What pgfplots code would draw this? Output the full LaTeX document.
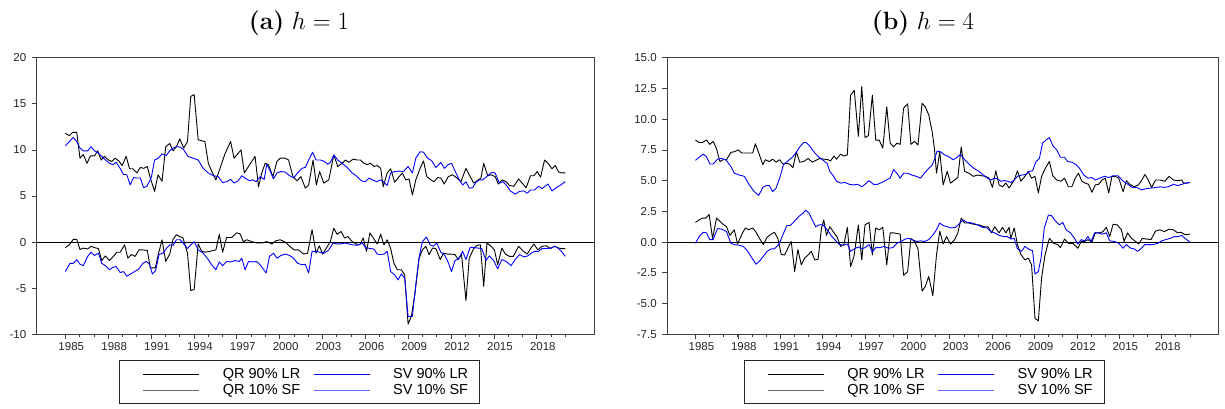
\documentclass[border=0pt]{standalone}
\usepackage{fontspec}
\newfontfamily\chartfont{Liberation Sans}
\usepackage{pgfplots}
\pgfplotsset{compat=1.18}

\definecolor{frame}{gray}{0.25}

\pgfplotsset{
  panel/.style={
    scale only axis, height=276.6pt,
    xmin=1983, xmax=2022,
    xtick={1985,1988,...,2018},
    xticklabels={1985,1988,1991,1994,1997,2000,2003,2006,2009,2012,2015,2018},
    minor xtick={1985,...,2020},
    tick align=outside, tick pos=left,
    major tick length=5pt, minor tick length=2.5pt,
    axis line style={frame, line width=0.8pt},
    every tick/.style={frame, line width=0.7pt},
    tick label style={font=\chartfont\fontsize{11.5}{13}\selectfont, text=black!85},
    /pgf/number format/assume math mode=true,
    xticklabel style={xshift=6pt},
    yticklabel style={xshift=-2pt},
    legend columns=2,
    legend cell align=left,
    legend image code/.code={\path (0pt,0pt); \draw[##1] (11.6pt,0pt) -- (67.6pt,0pt);},
    legend style={
      anchor=center, draw=black!85, line width=0.8pt,
      font=\chartfont\fontsize{14.5}{17}\selectfont,
      inner xsep=11.7pt, inner ysep=7.5pt, row sep=4.7pt,
      nodes={inner sep=0pt},
      /tikz/every odd column/.style={column sep=23pt},
      /tikz/every even column/.style={column sep=1.4pt},
    },
    every axis plot/.append style={line width=0.9pt, line join=round, mark=none},
  },
  qrline/.style={black},
  svline/.style={blue},
}

\begin{document}
\begin{tikzpicture}
\useasboundingbox (0,0) rectangle (1225pt,409pt);

\node[font=\fontsize{25}{30}\selectfont] at (299pt,386pt) {\textbf{(a)}~$h=1$};
\node[font=\fontsize{25}{30}\selectfont] at (923pt,386pt) {\textbf{(b)}~$h=4$};

% ---------------- h = 1 ----------------
\begin{axis}[panel, at={(36.7pt,74.7pt)}, anchor=south west, width=557.3pt,
  ymin=-10, ymax=20, ytick={-10,-5,...,20},
  legend style={at={(0.472,-0.173)}}]
\addplot[forget plot, black, line width=0.8pt] coordinates {(1983,0) (2022,0)};
% QR 90% LR
\addplot[qrline, forget plot] coordinates {
(1985.00,11.8)(1985.28,11.55)(1985.52,11.9)(1985.80,11.9)(1986.03,9.1)(1986.26,9.5)(1986.52,8.55)(1986.76,9.35)(1987.04,9.35)(1987.27,9.9)(1987.51,8.9)(1987.74,9.3)(1988.02,8.9)(1988.26,8.75)(1988.49,9.1)(1988.75,8.8)(1988.98,8.3)(1989.26,9.3)(1989.50,7.95)(1989.73,7.95)(1990.01,7.5)(1990.25,8.1)(1990.48,8.0)(1990.74,8.2)(1990.95,6.95)(1991.25,5.5)(1991.49,7.3)(1991.77,6.6)(1992.03,10.35)(1992.31,10.7)(1992.54,9.9)(1992.78,10.35)(1993.01,11.2)(1993.29,10.2)(1993.55,10.9)(1993.78,15.8)(1994.02,16.0)(1994.30,11.1)(1994.53,11.0)(1994.77,10.9)(1995.01,8.55)(1995.24,7.7)(1995.54,6.75)(1995.83,8.0)(1996.18,9.6)(1996.57,10.9)(1996.81,9.1)(1997.30,10.0)(1997.53,7.5)(1997.82,8.2)(1998.28,9.3)(1998.52,6.0)(1998.75,7.5)(1998.99,8.55)(1999.22,8.4)(1999.53,7.1)(1999.81,8.75)(2000.04,9.1)(2000.39,9.1)(2000.63,8.9)(2000.93,7.1)(2001.21,6.65)(2001.49,7.1)(2001.80,5.85)(2002.03,6.2)(2002.34,8.9)(2002.57,6.2)(2002.80,7.65)(2003.09,6.4)(2003.44,6.75)(2003.79,9.45)(2004.07,8.2)(2004.37,8.55)(2004.61,8.9)(2004.84,8.65)(2005.15,9.0)(2005.43,8.9)(2005.66,8.9)(2005.90,8.55)(2006.13,8.4)(2006.36,8.55)(2006.60,8.2)(2006.83,8.3)(2007.07,8.0)(2007.25,6.0)(2007.53,7.5)(2007.77,7.95)(2008.05,6.5)(2008.36,7.1)(2008.59,7.5)(2008.82,6.75)(2009.06,6.85)(2009.29,5.1)(2009.53,6.75)(2009.83,8.0)(2010.07,8.8)(2010.30,7.1)(2010.58,6.75)(2010.81,6.55)(2011.05,7.0)(2011.28,6.95)(2011.52,6.3)(2011.80,7.1)(2012.10,7.3)(2012.41,6.95)(2012.69,6.55)(2013.04,8.0)(2013.27,7.3)(2013.58,6.4)(2013.91,6.75)(2014.09,6.95)(2014.28,8.55)(2014.56,7.2)(2014.80,7.3)(2015.08,7.1)(2015.31,6.3)(2015.57,6.75)(2015.85,6.55)(2016.08,6.15)(2016.39,6.05)(2016.72,6.85)(2016.97,6.4)(2017.25,5.9)(2017.56,7.2)(2017.79,7.2)(2018.03,7.65)(2018.26,7.05)(2018.54,8.9)(2018.78,8.55)(2019.06,7.95)(2019.29,8.3)(2019.53,7.6)(2019.76,7.5)(2019.99,7.5)
};
% SV 90% LR
\addplot[svline, forget plot] coordinates {
(1985.00,10.45)(1985.28,10.9)(1985.56,11.35)(1985.80,10.9)(1986.03,10.2)(1986.26,9.9)(1986.57,9.9)(1986.80,10.35)(1987.04,9.9)(1987.32,9.65)(1987.55,9.3)(1987.81,8.9)(1988.09,8.55)(1988.33,8.4)(1988.56,8.65)(1988.84,8.0)(1989.07,7.35)(1989.31,7.3)(1989.54,6.2)(1989.78,7.0)(1990.01,6.95)(1990.25,6.95)(1990.48,5.9)(1990.71,6.05)(1991.02,7.0)(1991.25,8.9)(1991.49,9.1)(1991.77,9.55)(1992.07,9.4)(1992.31,9.9)(1992.54,10.2)(1992.78,10.35)(1993.06,10.3)(1993.29,10.0)(1993.59,9.3)(1993.95,9.1)(1994.30,8.9)(1994.65,8.0)(1995.01,7.5)(1995.36,7.2)(1995.71,7.1)(1996.01,6.45)(1996.29,6.55)(1996.57,6.8)(1996.81,6.4)(1997.11,6.65)(1997.35,7.2)(1997.58,6.95)(1997.89,6.65)(1998.12,6.75)(1998.35,6.55)(1998.64,7.1)(1998.92,6.8)(1999.10,8.45)(1999.34,7.7)(1999.57,6.85)(1999.81,7.5)(2000.09,7.65)(2000.39,7.6)(2000.70,7.2)(2000.98,6.95)(2001.26,7.5)(2001.56,8.0)(2001.80,8.1)(2002.03,8.9)(2002.31,9.75)(2002.55,8.9)(2002.85,8.9)(2003.13,8.75)(2003.37,8.45)(2003.55,8.65)(2003.79,9.45)(2004.07,8.9)(2004.37,8.55)(2004.72,8.1)(2005.08,7.5)(2005.43,7.1)(2005.71,6.65)(2006.01,6.55)(2006.25,6.95)(2006.48,6.75)(2006.79,6.55)(2007.07,6.75)(2007.30,6.5)(2007.53,6.15)(2007.77,7.5)(2008.05,7.65)(2008.36,7.7)(2008.66,7.65)(2008.99,8.2)(2009.29,7.5)(2009.53,9.1)(2009.83,9.8)(2010.07,9.75)(2010.35,9.1)(2010.63,8.85)(2010.93,8.1)(2011.28,8.65)(2011.52,8.0)(2011.80,8.4)(2012.03,8.55)(2012.34,7.5)(2012.57,6.75)(2012.81,6.2)(2013.04,6.55)(2013.27,5.85)(2013.51,5.9)(2013.74,6.5)(2013.98,6.75)(2014.21,6.75)(2014.56,7.2)(2014.84,7.55)(2015.08,7.5)(2015.38,6.4)(2015.62,6.55)(2015.85,6.2)(2016.15,5.55)(2016.48,5.2)(2016.79,5.5)(2017.09,5.55)(2017.33,5.3)(2017.56,5.65)(2017.84,5.65)(2018.12,6.05)(2018.36,5.8)(2018.78,6.3)(2019.06,5.55)(2019.36,5.9)(2019.67,6.2)(2019.99,6.55)
};
% QR 10% SF
\addplot[qrline, forget plot] coordinates {
(1985.00,-0.6)(1985.28,-0.3)(1985.56,0.3)(1985.80,0.3)(1986.03,-0.8)(1986.26,-0.65)(1986.57,-0.75)(1986.80,-0.45)(1987.04,-0.6)(1987.32,-0.7)(1987.55,-2.0)(1987.81,-1.5)(1988.09,-2.0)(1988.37,-1.55)(1988.61,-1.1)(1988.84,-1.1)(1989.15,-0.3)(1989.38,-1.75)(1989.62,-1.35)(1989.89,-1.55)(1990.15,-0.85)(1990.43,-0.85)(1990.74,-0.9)(1990.95,-2.8)(1991.30,-2.8)(1991.53,-1.2)(1991.77,0.25)(1992.03,-2.1)(1992.31,-1.3)(1992.54,0.3)(1992.78,0.8)(1993.01,0.6)(1993.24,0.45)(1993.55,-1.2)(1993.78,-5.25)(1994.02,-5.15)(1994.30,-0.2)(1994.53,-0.95)(1994.77,-1.1)(1995.12,-1.0)(1995.54,-0.85)(1995.78,0.85)(1996.01,-1.1)(1996.29,0.5)(1996.64,0.5)(1997.00,1.0)(1997.23,0.9)(1997.46,0.05)(1997.70,0.25)(1998.05,0.05)(1998.40,-0.1)(1998.75,-0.1)(1999.10,0.05)(1999.46,-0.2)(1999.76,0.15)(2000.04,0.25)(2000.39,0.0)(2000.70,-0.45)(2001.02,-0.85)(2001.33,-0.85)(2001.68,-1.3)(2001.96,-1.2)(2002.27,1.35)(2002.55,-1.2)(2002.78,-0.4)(2003.01,-1.3)(2003.27,-0.65)(2003.55,0.05)(2003.79,1.5)(2004.02,0.85)(2004.30,1.15)(2004.54,0.45)(2004.77,0.6)(2005.08,0.05)(2005.36,-0.2)(2005.61,-0.3)(2005.85,0.45)(2006.08,-1.0)(2006.32,1.0)(2006.60,0.35)(2006.83,-0.2)(2007.07,0.85)(2007.30,-0.3)(2007.53,0.25)(2007.77,-0.7)(2008.00,-2.3)(2008.24,-3.0)(2008.52,-3.0)(2008.75,-3.55)(2008.99,-8.9)(2009.22,-8.05)(2009.46,-5.7)(2009.76,-1.75)(2009.99,-0.85)(2010.23,-0.45)(2010.46,-1.35)(2010.70,-0.65)(2010.93,-0.7)(2011.24,-1.9)(2011.47,-1.2)(2011.75,-1.3)(2011.99,-1.3)(2012.27,-1.35)(2012.50,-1.9)(2012.73,-1.35)(2013.04,-6.35)(2013.27,-1.75)(2013.58,-0.7)(2013.81,-0.35)(2014.05,-0.3)(2014.28,-4.8)(2014.51,-0.1)(2014.80,-0.45)(2015.03,-0.85)(2015.26,-2.45)(2015.55,-0.65)(2015.80,-1.3)(2016.08,-1.55)(2016.36,-1.55)(2016.72,-0.45)(2017.02,-0.95)(2017.33,-1.3)(2017.56,-0.7)(2017.79,-0.2)(2018.07,-0.85)(2018.36,-0.45)(2018.66,-0.4)(2018.96,-0.7)(2019.25,-0.45)(2019.53,-0.65)(2019.76,-0.7)(2019.99,-0.7)
};
% SV 10% SF
\addplot[svline, forget plot] coordinates {
(1985.00,-3.2)(1985.33,-2.3)(1985.56,-2.3)(1985.80,-1.9)(1986.03,-2.4)(1986.26,-2.55)(1986.57,-1.55)(1986.80,-1.1)(1987.04,-1.45)(1987.32,-1.2)(1987.55,-2.3)(1987.81,-2.55)(1988.09,-3.0)(1988.33,-2.75)(1988.56,-2.65)(1988.84,-3.3)(1989.07,-3.2)(1989.31,-3.7)(1989.57,-3.45)(1989.85,-3.2)(1990.15,-2.9)(1990.43,-2.3)(1990.67,-2.1)(1990.90,-2.4)(1991.09,-3.45)(1991.32,-3.1)(1991.56,-1.35)(1991.84,-1.2)(1992.07,-0.7)(1992.31,-0.3)(1992.54,-0.35)(1992.78,0.25)(1993.06,0.25)(1993.29,-0.2)(1993.55,-0.7)(1993.78,-0.3)(1994.02,0.05)(1994.30,-0.85)(1994.65,-1.2)(1995.01,-1.9)(1995.24,-2.45)(1995.54,-3.0)(1995.78,-2.15)(1996.01,-2.55)(1996.29,-2.1)(1996.57,-2.15)(1996.88,-2.0)(1997.18,-2.1)(1997.35,-1.75)(1997.58,-3.0)(1997.82,-2.1)(1998.12,-2.15)(1998.40,-2.1)(1998.68,-2.55)(1999.06,-3.35)(1999.29,-1.55)(1999.57,-1.2)(1999.81,-1.75)(2000.09,-1.45)(2000.39,-1.3)(2000.70,-1.45)(2000.98,-1.75)(2001.26,-2.3)(2001.56,-2.45)(2001.80,-2.4)(2002.03,-3.35)(2002.27,-1.0)(2002.55,-1.0)(2002.80,-1.1)(2003.13,-1.2)(2003.44,-0.85)(2003.74,-0.1)(2004.02,-0.2)(2004.30,-0.2)(2004.54,-0.1)(2004.84,-0.2)(2005.12,-0.3)(2005.43,-0.35)(2005.78,-0.1)(2006.01,-0.6)(2006.36,-0.7)(2006.60,-0.75)(2006.83,-1.3)(2007.07,-1.35)(2007.30,-1.3)(2007.53,-1.0)(2007.77,-3.2)(2008.05,-3.55)(2008.29,-4.1)(2008.52,-3.45)(2008.75,-3.9)(2008.99,-8.05)(2009.29,-8.05)(2009.53,-4.6)(2009.76,-1.65)(2009.99,0.05)(2010.28,0.55)(2010.53,-0.3)(2010.77,-0.45)(2011.00,-0.1)(2011.28,-1.1)(2011.52,-1.35)(2011.75,-2.0)(2012.03,-3.2)(2012.27,-2.0)(2012.50,-1.85)(2012.81,-1.0)(2013.04,-1.9)(2013.34,-0.55)(2013.58,-0.6)(2013.91,-0.65)(2014.14,-0.7)(2014.44,-2.0)(2014.68,-1.5)(2014.98,-2.0)(2015.26,-2.9)(2015.55,-1.9)(2015.85,-2.1)(2016.20,-2.55)(2016.48,-1.9)(2016.79,-1.35)(2017.09,-1.6)(2017.37,-1.5)(2017.61,-1.2)(2017.84,-1.0)(2018.12,-1.0)(2018.36,-0.7)(2018.66,-0.7)(2018.96,-0.65)(2019.25,-0.45)(2019.48,-0.65)(2019.72,-1.0)(2019.99,-1.55)
};
\addlegendimage{black, line width=0.9pt}
\addlegendentry{QR 90\% LR}
\addlegendimage{blue, line width=0.9pt}
\addlegendentry{SV 90\% LR}
\addlegendimage{black!60, line width=0.9pt}
\addlegendentry{QR 10\% SF}
\addlegendimage{blue!60, line width=0.9pt}
\addlegendentry{SV 10\% SF}
\end{axis}

% ---------------- h = 4 ----------------
\begin{axis}[panel, at={(667.2pt,74.7pt)}, anchor=south west, width=551pt,
  ymin=-7.5, ymax=15, ytick={-7.5,-5,...,15},
  yticklabel style={/pgf/number format/.cd, fixed, fixed zerofill, precision=1},
  legend style={at={(0.4664,-0.173)}}]
\addplot[forget plot, black, line width=0.8pt] coordinates {(1983,0) (2022,0)};
% QR 90% LR
\addplot[qrline, forget plot] coordinates {
(1985.00,8.3)(1985.26,8.1)(1985.49,8.1)(1985.78,8.3)(1986.02,7.95)(1986.25,8.2)(1986.49,7.6)(1986.73,6.55)(1986.96,6.7)(1987.20,6.7)(1987.51,7.3)(1987.75,7.35)(1988.03,7.5)(1988.27,7.25)(1988.58,7.25)(1988.81,7.25)(1989.05,7.25)(1989.24,8.0)(1989.48,7.25)(1989.77,6.3)(1989.95,6.7)(1990.24,6.55)(1990.46,6.75)(1990.71,6.5)(1990.95,6.7)(1991.19,6.35)(1991.42,6.4)(1991.66,6.35)(1991.90,6.05)(1992.14,7.35)(1992.38,6.5)(1992.66,6.55)(1992.97,6.8)(1993.27,6.5)(1993.61,6.7)(1993.80,6.8)(1994.08,6.75)(1994.39,6.7)(1994.56,6.6)(1994.80,7.0)(1994.99,6.75)(1995.27,7.15)(1995.51,7.0)(1995.75,7.1)(1995.98,11.95)(1996.24,12.35)(1996.53,8.6)(1996.77,12.65)(1997.00,8.5)(1997.24,8.65)(1997.52,11.95)(1997.76,8.3)(1998.00,8.3)(1998.26,7.65)(1998.54,11.0)(1998.78,8.05)(1999.02,7.75)(1999.26,8.05)(1999.49,7.95)(1999.73,10.9)(2000.02,11.25)(2000.25,7.95)(2000.51,8.2)(2000.75,7.9)(2001.04,11.3)(2001.27,11.0)(2001.51,10.35)(2001.75,9.0)(2001.91,7.65)(2002.06,5.6)(2002.29,7.35)(2002.53,4.65)(2002.82,5.75)(2003.05,4.8)(2003.34,5.05)(2003.57,5.25)(2003.81,7.75)(2004.05,5.75)(2004.36,5.6)(2004.67,5.35)(2004.95,5.45)(2005.24,5.4)(2005.54,5.35)(2005.78,5.2)(2006.02,4.45)(2006.26,5.8)(2006.49,4.65)(2006.73,4.5)(2006.97,4.8)(2007.20,4.4)(2007.56,5.05)(2007.79,5.8)(2008.03,4.95)(2008.32,5.35)(2008.55,5.75)(2008.79,5.2)(2009.03,5.35)(2009.27,4.0)(2009.50,5.35)(2009.76,6.0)(2010.05,6.55)(2010.29,5.4)(2010.57,5.05)(2010.88,4.95)(2011.12,5.2)(2011.40,4.5)(2011.64,4.5)(2011.88,5.2)(2012.11,5.6)(2012.35,4.95)(2012.59,4.8)(2012.82,4.7)(2013.06,4.05)(2013.30,4.65)(2013.54,4.7)(2013.77,5.05)(2014.01,5.2)(2014.25,4.0)(2014.48,5.35)(2014.72,5.35)(2014.96,5.2)(2015.27,4.1)(2015.50,5.0)(2015.74,4.7)(2016.05,4.5)(2016.34,4.65)(2016.57,5.0)(2016.81,5.5)(2017.05,5.05)(2017.28,4.45)(2017.57,5.05)(2017.88,5.05)(2018.23,4.95)(2018.52,5.35)(2018.83,5.05)(2019.13,5.0)(2019.42,5.05)(2019.54,4.8)(2019.78,4.8)(2020.00,4.85)
};
% SV 90% LR
\addplot[svline, forget plot] coordinates {
(1985.00,6.65)(1985.26,6.9)(1985.54,7.15)(1985.78,6.95)(1986.02,6.35)(1986.25,6.35)(1986.56,6.75)(1986.87,6.8)(1987.15,6.7)(1987.51,6.15)(1987.75,5.6)(1988.10,5.45)(1988.46,5.35)(1988.81,4.65)(1989.17,4.1)(1989.48,3.8)(1989.77,4.45)(1990.00,4.6)(1990.24,4.6)(1990.46,4.1)(1990.71,4.4)(1991.00,5.35)(1991.23,6.3)(1991.54,6.6)(1991.85,6.9)(1992.14,7.3)(1992.38,7.75)(1992.66,8.1)(1992.85,8.1)(1993.13,7.75)(1993.44,7.25)(1993.75,6.9)(1994.04,6.65)(1994.32,6.4)(1994.51,5.75)(1994.75,5.4)(1994.99,4.95)(1995.27,4.8)(1995.58,4.85)(1995.89,4.7)(1996.17,4.65)(1996.48,4.7)(1996.77,4.5)(1997.00,4.7)(1997.29,5.0)(1997.60,4.7)(1997.88,4.7)(1998.19,4.85)(1998.50,5.05)(1998.78,5.2)(1999.02,5.9)(1999.26,5.6)(1999.49,5.2)(1999.73,5.6)(2000.02,5.6)(2000.32,5.45)(2000.63,5.35)(2000.92,5.2)(2001.20,5.6)(2001.51,6.0)(2001.75,6.25)(2001.91,6.7)(2002.10,7.4)(2002.34,7.35)(2002.63,7.1)(2002.93,6.95)(2003.24,6.7)(2003.53,6.9)(2003.76,7.15)(2004.05,6.7)(2004.36,6.35)(2004.71,6.0)(2005.07,5.75)(2005.38,5.45)(2005.66,5.2)(2005.90,5.05)(2006.14,5.2)(2006.37,5.15)(2006.61,4.95)(2006.85,5.0)(2007.09,4.95)(2007.32,4.85)(2007.56,5.05)(2007.79,5.35)(2008.08,5.45)(2008.39,5.5)(2008.62,5.75)(2008.86,5.8)(2009.10,6.55)(2009.34,6.8)(2009.57,8.05)(2009.81,8.3)(2010.05,8.5)(2010.29,7.85)(2010.57,7.5)(2010.83,6.9)(2011.12,6.9)(2011.35,6.55)(2011.64,6.5)(2011.88,6.35)(2012.18,6.0)(2012.49,5.45)(2012.78,5.2)(2013.06,5.25)(2013.30,5.05)(2013.61,5.2)(2013.96,5.35)(2014.25,5.25)(2014.56,5.4)(2014.91,5.4)(2015.27,4.95)(2015.62,4.7)(2015.91,4.45)(2016.22,4.45)(2016.57,4.25)(2016.93,4.35)(2017.28,4.4)(2017.64,4.45)(2017.88,4.5)(2018.19,4.45)(2018.47,4.5)(2018.83,4.7)(2019.13,4.6)(2019.42,4.7)(2019.70,4.8)(2020.00,4.85)
};
% QR 10% SF
\addplot[qrline, forget plot] coordinates {
(1985.00,1.6)(1985.26,1.8)(1985.49,1.95)(1985.73,1.95)(1985.97,2.25)(1986.21,0.3)(1986.49,1.95)(1986.73,1.7)(1986.96,1.45)(1987.20,1.25)(1987.44,0.55)(1987.75,1.0)(1987.98,-0.15)(1988.29,0.65)(1988.53,1.15)(1988.77,1.0)(1989.05,1.15)(1989.29,0.8)(1989.53,0.3)(1989.81,-0.2)(1990.07,0.4)(1990.36,0.65)(1990.59,0.8)(1990.83,0.3)(1991.07,-1.0)(1991.31,-1.05)(1991.54,-0.5)(1991.78,0.05)(1992.02,-2.4)(1992.25,-0.6)(1992.49,-1.85)(1992.73,-1.3)(1992.97,-1.05)(1993.20,-0.75)(1993.44,-1.45)(1993.68,-1.4)(1993.92,1.15)(1994.08,1.8)(1994.27,0.55)(1994.51,1.25)(1994.75,0.85)(1995.03,0.4)(1995.27,-0.35)(1995.51,-0.2)(1995.75,1.2)(1995.98,-2.0)(1996.22,-1.15)(1996.53,1.4)(1996.77,-1.45)(1997.00,1.4)(1997.29,1.6)(1997.52,-1.05)(1997.76,1.15)(1998.00,1.0)(1998.26,1.2)(1998.54,-1.85)(1998.78,0.75)(1999.02,0.75)(1999.49,0.65)(1999.73,-2.7)(2000.02,-2.4)(2000.25,0.3)(2000.51,0.05)(2000.75,-0.55)(2001.04,-4.0)(2001.27,-3.6)(2001.51,-2.8)(2001.80,-4.35)(2002.06,-1.05)(2002.29,0.9)(2002.53,-0.15)(2002.77,0.45)(2003.05,-0.15)(2003.34,0.2)(2003.57,0.75)(2003.81,1.95)(2004.05,1.55)(2004.36,1.55)(2004.71,1.45)(2005.07,1.4)(2005.43,1.25)(2005.71,1.25)(2005.95,0.75)(2006.18,1.25)(2006.49,0.75)(2006.73,1.2)(2006.97,0.75)(2007.20,1.2)(2007.32,0.3)(2007.56,1.15)(2007.79,-0.2)(2008.03,-1.0)(2008.32,-1.45)(2008.55,-1.3)(2008.79,-1.85)(2009.03,-6.2)(2009.27,-6.4)(2009.50,-2.9)(2009.74,-1.05)(2010.05,0.3)(2010.36,-0.1)(2010.64,-0.2)(2010.83,-0.45)(2011.12,0.25)(2011.40,-0.1)(2011.71,-0.1)(2012.06,-0.5)(2012.30,0.05)(2012.54,0.05)(2012.78,0.2)(2013.06,0.0)(2013.30,0.75)(2013.61,0.75)(2013.84,0.85)(2014.08,1.2)(2014.32,0.45)(2014.56,1.45)(2014.86,1.4)(2015.15,1.0)(2015.34,0.05)(2015.58,0.75)(2015.86,0.3)(2016.15,0.05)(2016.38,-0.15)(2016.62,0.3)(2016.93,0.25)(2017.24,0.2)(2017.57,0.9)(2017.88,1.0)(2018.19,0.85)(2018.52,1.05)(2018.83,1.0)(2019.13,0.75)(2019.37,0.8)(2019.66,0.6)(2020.00,0.65)
};
% SV 10% SF
\addplot[svline, forget plot] coordinates {
(1985.00,-0.1)(1985.26,0.45)(1985.54,0.8)(1985.78,0.75)(1986.02,0.2)(1986.25,0.2)(1986.56,1.1)(1986.87,1.05)(1987.20,0.85)(1987.51,-0.1)(1987.75,-0.2)(1988.06,-0.25)(1988.39,-0.35)(1988.70,-0.75)(1989.00,-1.3)(1989.29,-1.8)(1989.53,-1.55)(1989.81,-1.15)(1990.07,-0.75)(1990.36,-0.55)(1990.59,-0.55)(1990.90,-0.2)(1991.19,0.6)(1991.47,1.35)(1991.71,1.35)(1992.02,1.7)(1992.33,2.1)(1992.61,2.35)(1992.80,2.6)(1993.04,2.35)(1993.27,1.8)(1993.51,1.25)(1993.75,1.4)(1994.03,1.4)(1994.32,1.0)(1994.63,0.5)(1994.94,0.1)(1995.18,-0.2)(1995.46,-0.25)(1995.75,-0.15)(1995.98,-0.75)(1996.24,-0.55)(1996.53,-0.4)(1996.77,-0.55)(1997.00,-0.45)(1997.29,-0.2)(1997.52,-0.8)(1997.76,-0.45)(1998.07,-0.45)(1998.36,-0.35)(1998.66,-0.5)(1998.97,-0.45)(1999.26,-0.1)(1999.54,0.05)(1999.85,0.25)(2000.09,0.3)(2000.32,0.2)(2000.68,0.05)(2000.92,0.1)(2001.20,0.05)(2001.51,0.2)(2001.82,0.6)(2002.06,1.0)(2002.29,1.55)(2002.53,1.35)(2002.82,1.25)(2003.10,1.15)(2003.41,1.2)(2003.72,1.55)(2003.95,1.8)(2004.24,1.6)(2004.59,1.55)(2004.95,1.4)(2005.31,1.2)(2005.66,1.15)(2005.90,0.85)(2006.18,0.75)(2006.49,0.55)(2006.80,0.45)(2007.09,0.45)(2007.32,0.25)(2007.56,0.3)(2007.79,-0.55)(2008.08,-0.75)(2008.32,-0.35)(2008.62,-0.6)(2008.86,-0.7)(2009.03,-2.6)(2009.27,-2.4)(2009.46,-1.3)(2009.69,1.15)(2009.98,2.2)(2010.21,2.15)(2010.45,1.75)(2010.76,1.4)(2011.00,1.6)(2011.23,1.0)(2011.54,0.75)(2011.83,0.3)(2012.06,-0.15)(2012.30,0.2)(2012.54,0.1)(2012.78,0.45)(2013.01,0.05)(2013.25,0.75)(2013.54,0.75)(2013.77,0.65)(2014.08,0.75)(2014.32,0.1)(2014.67,0.05)(2014.96,-0.1)(2015.27,-0.5)(2015.50,-0.2)(2015.81,-0.5)(2016.05,-0.55)(2016.29,-0.75)(2016.57,-0.5)(2016.81,-0.2)(2017.09,-0.2)(2017.40,-0.2)(2017.71,-0.1)(2018.00,0.1)(2018.28,0.2)(2018.59,0.3)(2018.90,0.45)(2019.18,0.45)(2019.42,0.55)(2019.66,0.3)(2020.00,0.0)
};
\addlegendimage{black, line width=0.9pt}
\addlegendentry{QR 90\% LR}
\addlegendimage{blue, line width=0.9pt}
\addlegendentry{SV 90\% LR}
\addlegendimage{black!60, line width=0.9pt}
\addlegendentry{QR 10\% SF}
\addlegendimage{blue!60, line width=0.9pt}
\addlegendentry{SV 10\% SF}
\end{axis}
\end{tikzpicture}
\end{document}
